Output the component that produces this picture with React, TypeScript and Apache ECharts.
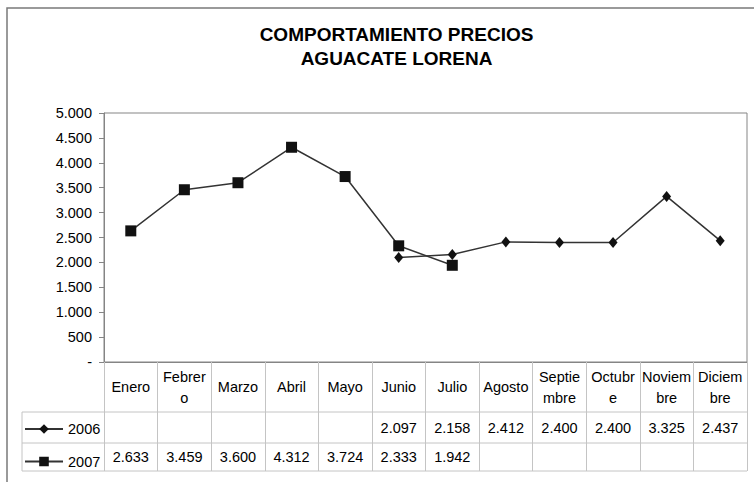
import React, { useEffect, useRef } from "react";
import * as echarts from "echarts";

const months = ["Enero", "Febrero", "Marzo", "Abril", "Mayo", "Junio", "Julio", "Agosto", "Septiembre", "Octubre", "Noviembre", "Diciembre"];
const values2006: (number | null)[] = [null, null, null, null, null, 2097, 2158, 2412, 2400, 2400, 3325, 2437];
const values2007: (number | null)[] = [2633, 3459, 3600, 4312, 3724, 2333, 1942, null, null, null, null, null];
const seriesNames = ["2006", "2007"];
const titleLines = ["COMPORTAMIENTO PRECIOS", "AGUACATE LORENA"];
const yMin = 0;
const yMax = 5000;
const yInterval = 500;

const W = 754;
const H = 482;
const PLOT_L = 104;
const PLOT_R = 747;
const PLOT_T = 113;
const PLOT_B = 362;
const ROW1_T = 412;
const ROW2_T = 443;
const TABLE_B = 471;
const LEG_L = 22;
const FONT = '"Liberation Sans", Arial, sans-serif';
const FS = 14.5;
const TABLE_LINE = "#c4c4c4";
const AXIS_LINE = "#858585";

const fmt = (v: number | null) => {
  if (v == null) return "";
  if (v === 0) return "-";
  return String(v).replace(/\B(?=(\d{3})+(?!\d))/g, ".");
};
const wrap = (s: string) => (s.match(/.{1,6}/g) || [s]).join("\n");

export default function App() {
  const ref = useRef<HTMLDivElement>(null);
  useEffect(() => {
    if (!ref.current) return;
    const chart = echarts.init(ref.current, null, { renderer: "svg" });
    const hLine = (y: number) => ({
      type: "line",
      shape: { x1: LEG_L, y1: y, x2: PLOT_R, y2: y },
      style: { stroke: TABLE_LINE, lineWidth: 1 },
      z: 1,
    });
    const rowAxis = (vals: (number | null)[], centerY: number) => ({
      type: "category",
      gridIndex: 0,
      position: "bottom",
      offset: centerY - PLOT_B,
      data: vals.map(fmt),
      axisLine: { show: false },
      axisTick: { show: false },
      splitLine: { show: false },
      axisLabel: {
        interval: 0,
        margin: 0,
        verticalAlign: "middle",
        color: "#000",
        fontSize: FS,
        fontFamily: FONT,
      },
    });
    const row1C = (ROW1_T + ROW2_T) / 2;
    const row2C = (ROW2_T + TABLE_B) / 2;
    chart.setOption({
      animation: false,
      backgroundColor: "#fff",
      grid: {
        left: PLOT_L,
        right: W - PLOT_R,
        top: PLOT_T,
        bottom: H - PLOT_B,
        show: true,
        borderColor: AXIS_LINE,
        borderWidth: 1,
        backgroundColor: "transparent",
      },
      legend: {
        orient: "vertical",
        left: LEG_L + 2,
        top: row1C - 6,
        padding: 0,
        itemWidth: 38,
        itemHeight: 12,
        itemGap: row2C - row1C - 12,
        textStyle: { color: "#000", fontSize: FS, fontFamily: FONT },
        data: seriesNames,
      },
      xAxis: [
        {
          type: "category",
          data: months,
          boundaryGap: true,
          axisLine: { show: true, lineStyle: { color: AXIS_LINE, width: 1 } },
          axisTick: { show: true, interval: 0, length: TABLE_B - PLOT_B, lineStyle: { color: TABLE_LINE, width: 1 } },
          axisLabel: {
            interval: 0,
            margin: (ROW1_T - PLOT_B) / 2,
            verticalAlign: "middle",
            lineHeight: 21,
            color: "#000",
            fontSize: FS,
            fontFamily: FONT,
            formatter: (v: string) => wrap(v),
          },
          splitLine: { show: false },
        },
        rowAxis(values2006, row1C),
        rowAxis(values2007, row2C),
      ],
      yAxis: {
        type: "value",
        min: yMin,
        max: yMax,
        interval: yInterval,
        axisLine: { show: true, lineStyle: { color: AXIS_LINE, width: 1 } },
        axisTick: { show: true, length: 5, lineStyle: { color: AXIS_LINE } },
        splitLine: { show: false },
        axisLabel: {
          margin: 12,
          color: "#000",
          fontSize: FS,
          fontFamily: FONT,
          formatter: (v: number) => fmt(v),
        },
      },
      series: [
        {
          name: seriesNames[0],
          type: "line",
          xAxisIndex: 0,
          data: values2006,
          symbol: "diamond",
          symbolSize: [9, 11],
          itemStyle: { color: "#111" },
          lineStyle: { color: "#333", width: 1.5 },
          z: 3,
        },
        {
          name: seriesNames[1],
          type: "line",
          xAxisIndex: 0,
          data: values2007,
          symbol: "rect",
          symbolSize: 11,
          itemStyle: { color: "#111" },
          lineStyle: { color: "#333", width: 1.5 },
          z: 4,
        },
      ],
      graphic: [
        {
          type: "rect",
          shape: { x: 7, y: 8, width: 800, height: 520 },
          style: { fill: "none", stroke: "#7a7a7a", lineWidth: 1.5 },
          silent: true,
        },
        {
          type: "text",
          x: 396.5,
          y: 22.5,
          style: {
            text: titleLines.join("\n"),
            fontSize: 19,
            fontWeight: "bold",
            fontFamily: FONT,
            lineHeight: 24,
            align: "center",
            textAlign: "center",
            fill: "#000",
          },
        },
        hLine(ROW1_T),
        hLine(ROW2_T),
        hLine(TABLE_B),
        {
          type: "line",
          shape: { x1: LEG_L, y1: ROW1_T, x2: LEG_L, y2: TABLE_B },
          style: { stroke: TABLE_LINE, lineWidth: 1 },
        },
      ],
    });
    return () => chart.dispose();
  }, []);
  return (
    <div
      ref={ref}
      style={{ position: "absolute", left: 0, top: 0, width: W, height: H }}
    />
  );
}
